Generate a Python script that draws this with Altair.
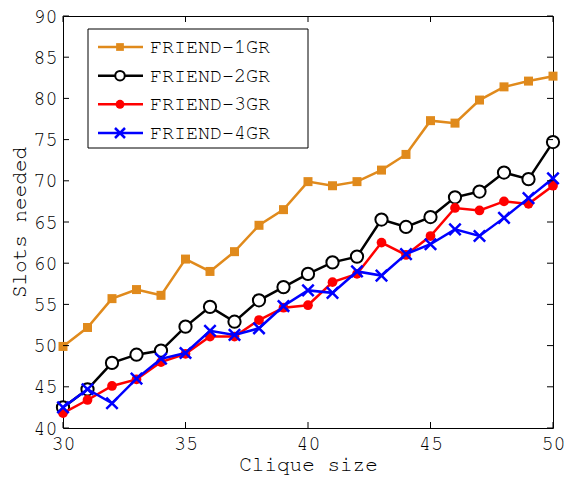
import altair as alt
import pandas as pd

# ---------------- data ----------------
clique = list(range(30, 51))
names = ["FRIEND-1GR", "FRIEND-2GR", "FRIEND-3GR", "FRIEND-4GR"]
gr1 = [49.9, 52.2, 55.7, 56.8, 56.1, 60.5, 59.0, 61.4, 64.6, 66.5, 69.9,
       69.4, 69.9, 71.3, 73.2, 77.3, 77.0, 79.8, 81.4, 82.1, 82.7]
gr2 = [42.5, 44.7, 47.9, 48.9, 49.4, 52.3, 54.7, 52.9, 55.5, 57.1, 58.7,
       60.1, 60.8, 65.3, 64.4, 65.6, 68.0, 68.7, 71.0, 70.2, 74.7]
gr3 = [41.8, 43.4, 45.1, 45.9, 48.0, 49.0, 51.1, 51.1, 53.1, 54.6, 54.9,
       57.7, 58.7, 62.5, 61.0, 63.3, 66.7, 66.4, 67.5, 67.2, 69.4]
gr4 = [42.5, 44.7, 43.0, 46.0, 48.4, 49.1, 51.8, 51.3, 52.1, 54.8, 56.7,
       56.4, 59.0, 58.5, 61.1, 62.3, 64.1, 63.3, 65.5, 67.9, 70.3]
x_ticks = [30, 35, 40, 45, 50]
y_ticks = [40, 45, 50, 55, 60, 65, 70, 75, 80, 85, 90]

series_values = dict(zip(names, [gr1, gr2, gr3, gr4]))

# ---------------- styling ----------------
W, H = 490, 412
FONT = "'Nimbus Mono PS', 'Nimbus Mono L', FreeMono, 'Courier New', Courier, 'Liberation Mono', monospace"
TL = 6  # inner tick length

styles = {
    "FRIEND-1GR": dict(color="#E08A1C", shape="square", size=81, fill="#E08A1C", sw=0, lsize=60),
    "FRIEND-2GR": dict(color="black", shape="circle", size=150, fill="white", sw=2, lsize=90),
    "FRIEND-3GR": dict(color="#FF0000", shape="circle", size=95, fill="#FF0000", sw=0, lsize=80),
    "FRIEND-4GR": dict(color="#0000FF", shape="M-1,-1L1,1M-1,1L1,-1", size=130, fill=None, sw=2.5, lsize=100),
}

x_enc = alt.X("x:Q", scale=alt.Scale(domain=[30, 50], nice=False, zero=False),
              axis=alt.Axis(values=x_ticks, title="Clique size", titleY=25,
                            titleBaseline="top"))
y_enc = alt.Y("y:Q", scale=alt.Scale(domain=[40, 90], nice=False, zero=False),
              axis=alt.Axis(values=y_ticks, title="Slots needed", titleX=-34,
                            titleY=H / 2, titleAngle=-90))

main_layers = []
for name in names:
    st = styles[name]
    df = pd.DataFrame({"x": clique, "y": series_values[name], "series": name})
    base = alt.Chart(df).encode(x=x_enc, y=y_enc)
    main_layers.append(base.mark_line(color=st["color"], strokeWidth=2.5))
    if st["fill"] is None:
        pt = base.mark_point(shape=st["shape"], size=st["size"], filled=False,
                             stroke=st["color"], strokeWidth=st["sw"], opacity=1)
    else:
        pt = base.mark_point(shape=st["shape"], size=st["size"], filled=True,
                             fill=st["fill"], stroke=st["color"],
                             strokeWidth=st["sw"], opacity=1)
    main_layers.append(pt)

# inner ticks (MATLAB style) on all four sides
xt = pd.DataFrame({"x": x_ticks})
yt = pd.DataFrame({"y": y_ticks})
main_layers += [
    alt.Chart(xt).mark_rule(color="black", strokeWidth=1).encode(
        x=x_enc, y=alt.value(0), y2=alt.value(TL)),
    alt.Chart(xt).mark_rule(color="black", strokeWidth=1).encode(
        x=x_enc, y=alt.value(H - TL), y2=alt.value(H)),
    alt.Chart(yt).mark_rule(color="black", strokeWidth=1).encode(
        y=y_enc, x=alt.value(0), x2=alt.value(TL)),
    alt.Chart(yt).mark_rule(color="black", strokeWidth=1).encode(
        y=y_enc, x=alt.value(W - TL), x2=alt.value(W)),
]
main = alt.layer(*main_layers)

# ---------------- legend (drawn inside the plot) ----------------
ly = alt.Y("series:N", scale=alt.Scale(type="point", domain=names, range=[31, 117], padding=0),
           axis=None)
leg_layers = [
    alt.Chart(pd.DataFrame({"a": [0]})).mark_rect(fill="white", stroke="black", strokeWidth=1).encode(
        x=alt.value(25), x2=alt.value(245), y=alt.value(13), y2=alt.value(132))
]
for name in names:
    st = styles[name]
    d = pd.DataFrame({"series": [name]})
    b = alt.Chart(d)
    leg_layers.append(b.mark_rule(color=st["color"], strokeWidth=2.5).encode(
        y=ly, x=alt.value(35), x2=alt.value(80)))
    if st["fill"] is None:
        leg_layers.append(b.mark_point(shape=st["shape"], size=st["lsize"], filled=False,
                                       stroke=st["color"], strokeWidth=st["sw"], opacity=1).encode(
            y=ly, x=alt.value(57)))
    else:
        leg_layers.append(b.mark_point(shape=st["shape"], size=st["lsize"], filled=True,
                                       fill=st["fill"], stroke=st["color"],
                                       strokeWidth=st["sw"], opacity=1).encode(
            y=ly, x=alt.value(57)))
    leg_layers.append(b.mark_text(align="left", baseline="middle", font=FONT, fontSize=20,
                                  color="black").encode(
        y=ly, x=alt.value(87), text="series:N"))
legend = alt.layer(*leg_layers)

chart = alt.layer(main, legend).resolve_scale(y="independent", x="independent").properties(
    width=W, height=H,
    autosize=alt.AutoSizeParams(type="none"),
    padding={"left": 55, "top": 8, "right": 13, "bottom": 50},
).configure_view(
    stroke="black", strokeWidth=1
).configure_axis(
    labelFont=FONT, labelFontSize=20, labelColor="black",
    titleFont=FONT, titleFontSize=21, titleColor="black", titleFontWeight="normal",
    domain=False, ticks=False, grid=False,
    labelFlush=False, labelOverlap=False,
).configure_axisX(
    labelPadding=5
).configure_axisY(
    labelPadding=6
)

chart.save("out.html", embed_options={"renderer": "svg", "actions": False})
